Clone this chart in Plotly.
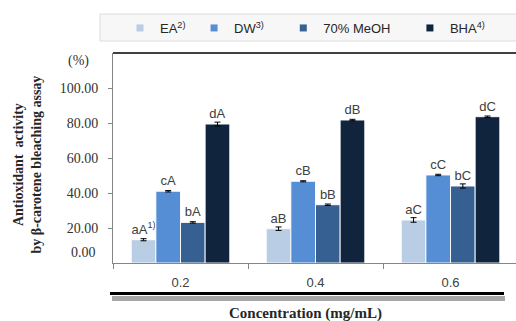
import plotly.graph_objects as go

categories = ["0.2", "0.4", "0.6"]
series_names = ["EA<sup>2)</sup>&nbsp;", "DW<sup>3)</sup>&nbsp;&nbsp;&nbsp;&nbsp;",
                "70% MeOH&nbsp;&nbsp;&nbsp;&nbsp;", "BHA<sup>4)</sup>"]
ea = [13.3, 19.6, 24.6]
dw = [41.0, 46.7, 50.3]
meoh = [23.2, 33.3, 44.0]
bha = [79.4, 81.7, 83.6]
ea_err = [0.6, 1.0, 1.3]
dw_err = [0.4, 0.3, 0.4]
meoh_err = [0.4, 0.4, 1.2]
bha_err = [1.1, 0.4, 0.4]
ea_lbl = ["aA<sup>1)</sup>", "aB", "aC"]
dw_lbl = ["cA", "cB", "cC"]
meoh_lbl = ["bA", "bB", "bC"]
bha_lbl = ["dA", "dB", "dC"]
y_ticks = [20, 40, 60, 80, 100]
y_tick_text = ["20.00", "40.00", "60.00", "80.00", "100.00"]

colors = ["#b9cde5", "#558ed5", "#376092", "#10243e"]
values = [ea, dw, meoh, bha]
errs = [ea_err, dw_err, meoh_err, bha_err]
labels = [ea_lbl, dw_lbl, meoh_lbl, bha_lbl]

SANS = "Liberation Sans"
SERIF = "Liberation Serif"
PAD = "&nbsp;&nbsp;"

fig = go.Figure()
for name, vals, err, lbl, col in zip(series_names, values, errs, labels, colors):
    fig.add_trace(go.Bar(
        x=categories, y=vals, name=name, showlegend=False, legendgroup=name,
        marker=dict(color=col, line=dict(color="rgba(255,255,255,0.9)", width=1)),
        error_y=dict(type="data", array=err, color="black", thickness=1, width=3),
        text=lbl, textposition="outside", constraintext="none",
        textfont=dict(family=SANS, size=13, color="#404040"),
        cliponaxis=False,
    ))
for name, col in zip(series_names, colors):
    fig.add_trace(go.Scatter(
        x=[None], y=[None], mode="markers", name=name, legendgroup=name,
        marker=dict(symbol="square", size=7, color=col),
    ))

# legend band
fig.add_shape(type="rect", xref="paper", yref="paper",
              x0=(100 - 113) / 403, x1=1.01, y0=(263 - 41) / 210, y1=(263 - 14) / 210,
              fillcolor="#f7f7f7", line=dict(color="#dcdcdc", width=1), layer="below")
# top black frame line
fig.add_shape(type="line", xref="paper", yref="paper", x0=0, x1=1, y0=1, y1=1,
              line=dict(color="black", width=1.5))
# bottom heavy line with shadow
fig.add_shape(type="line", xref="paper", yref="paper",
              x0=(112 - 113) / 403, x1=(505 - 113) / 403,
              y0=(263 - 298.5) / 210, y1=(263 - 298.5) / 210,
              line=dict(color="rgba(60,60,60,0.45)", width=5))
fig.add_shape(type="line", xref="paper", yref="paper",
              x0=(110 - 113) / 403, x1=(504 - 113) / 403,
              y0=(263 - 293.5) / 210, y1=(263 - 293.5) / 210,
              line=dict(color="black", width=3))

fig.add_annotation(text="Antioxidant  activity<br>by β-carotene bleaching assay",
                   xref="paper", yref="paper", x=(26.5 - 113) / 403, y=(263 - 165) / 210,
                   xanchor="center", yanchor="middle",
                   textangle=-90, showarrow=False,
                   font=dict(family=SERIF, size=14, color="#262626", weight="bold"))
fig.add_annotation(text="(%)", xref="paper", yref="paper", x=(78 - 113) / 403,
                   y=(263 - 61) / 210, xanchor="center", yanchor="middle", showarrow=False,
                   font=dict(family=SERIF, size=14, color="#333333"))
fig.add_annotation(text="0.00", xref="paper", yref="paper", x=(98 - 113) / 403,
                   y=(263 - 252.7) / 210, xanchor="right", yanchor="middle", showarrow=False,
                   font=dict(family=SERIF, size=14, color="#333333"))
fig.add_annotation(text="Concentration (mg/mL)", xref="paper", yref="paper",
                   x=(305 - 113) / 403, y=(263 - 313) / 210, xanchor="center",
                   yanchor="middle", showarrow=False,
                   font=dict(family=SERIF, size=15, color="#262626", weight="bold"))

fig.update_layout(
    template="none",
    width=516, height=321,
    margin=dict(l=113, r=0, t=53, b=58, autoexpand=False),
    paper_bgcolor="white", plot_bgcolor="white",
    barmode="group", bargap=0.27, bargroupgap=0,
    legend=dict(orientation="h", xref="container", yref="container",
                x=120 / 516, y=1 - 28 / 321, xanchor="left", yanchor="middle",
                bgcolor="rgba(0,0,0,0)", font=dict(family=SANS, size=13, color="#262626")),
    xaxis=dict(type="category", range=[-0.5, 2.485], tickson="boundaries",
               ticks="outside", ticklen=5, tickcolor="#868686", showline=True,
               linecolor="#868686", linewidth=1, showgrid=False, automargin=False,
               ticklabelstandoff=7,
               tickfont=dict(family=SANS, size=13, color="#404040")),
    yaxis=dict(range=[0, 120], tickvals=y_ticks, ticktext=[t + PAD for t in y_tick_text],
               ticks="outside", ticklen=4, tickcolor="#868686", showline=True,
               linecolor="#868686", linewidth=1, showgrid=False, zeroline=False,
               automargin=False,
               tickfont=dict(family=SERIF, size=14, color="#333333")),
)

fig.write_html("out.html", config={"displayModeBar": False},
               post_script="document.body.style.margin='0';document.body.style.overflow='hidden';")
